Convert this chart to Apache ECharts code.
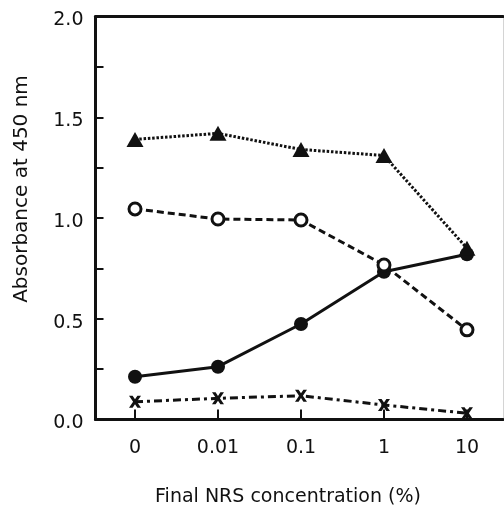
<!DOCTYPE html>
<html>
<head>
<meta charset="utf-8">
<script src="https://cdn.jsdelivr.net/npm/echarts@6/dist/echarts.min.js"></script>
<style>
  html, body { margin: 0; padding: 0; background: #fff; }
  #chart { width: 504px; height: 516px; }
</style>
</head>
<body>
<div id="chart"></div>
<script>
// NRS concentrations (%) on an evenly spaced axis
const concentrations = ['0', '0.01', '0.1', '1', '10'];
// Absorbance at 450 nm for each condition
const triangleSeries = [1.39, 1.42, 1.34, 1.31, 0.85];
const openCircleSeries = [1.045, 0.995, 0.99, 0.767, 0.445];
const filledCircleSeries = [0.212, 0.262, 0.474, 0.733, 0.82];
const crossSeries = [0.088, 0.105, 0.118, 0.072, 0.031];
const yTickLabels = ['0.0', '0.5', '1.0', '1.5', '2.0'];

const FONT = 'DejaVu Sans';
const INK = '#111';

function pairs(values) {
  return values.map((v, i) => [i, v]);
}

const crossSymbol = 'path://M0,0L3,0L5,3L7,0L10,0L6.6,5L10,10L7,10L5,7L3,10L0,10L3.4,5Z';

const chart = echarts.init(document.getElementById('chart'), null, { renderer: 'canvas' });

chart.setOption({
  backgroundColor: '#fff',
  animation: false,
  grid: { left: 95.5, right: 1, top: 16.5, bottom: 96.5, containLabel: false },
  xAxis: [
    {
      type: 'value',
      min: -0.476,
      max: 4.434,
      position: 'bottom',
      splitLine: { show: false },
      axisLine: { show: true, onZero: false, lineStyle: { color: INK, width: 3 } },
      axisTick: {
        show: true, inside: true, length: 10,
        customValues: [0, 1, 2, 3, 4],
        lineStyle: { color: INK, width: 2 }
      },
      axisLabel: {
        customValues: [0, 1, 2, 3, 4],
        formatter: v => concentrations[Math.round(v)],
        fontFamily: FONT, fontSize: 19, color: INK, margin: 19
      }
    },
    {
      type: 'value',
      min: -0.476,
      max: 4.434,
      position: 'top',
      splitLine: { show: false },
      axisLine: { show: true, onZero: false, lineStyle: { color: INK, width: 3 } },
      axisTick: { show: false },
      axisLabel: { show: false }
    }
  ],
  yAxis: [
    {
      type: 'value',
      min: 0,
      max: 2,
      interval: 0.25,
      position: 'left',
      splitLine: { show: false },
      axisLine: { show: true, onZero: false, lineStyle: { color: INK, width: 3 } },
      axisTick: { show: true, inside: true, length: 8, lineStyle: { color: INK, width: 2 } },
      axisLabel: {
        formatter: v => {
          const k = Math.round(v / 0.5);
          return Math.abs(v - k * 0.5) < 1e-6 ? '{t|' + yTickLabels[k] + '}' : '';
        },
        rich: {
          t: { fontFamily: FONT, fontSize: 19, color: INK, padding: [8, 0, 0, 0] }
        },
        fontFamily: FONT, fontSize: 19, color: INK, margin: 12
      }
    },
    {
      type: 'value',
      min: 0,
      max: 2,
      position: 'right',
      splitLine: { show: false },
      axisLine: { show: true, onZero: false, lineStyle: { color: '#d4d4d4', width: 1 } },
      axisTick: { show: false },
      axisLabel: { show: false }
    }
  ],
  series: [
    {
      type: 'line',
      data: pairs(crossSeries),
      symbol: crossSymbol,
      symbolSize: 12,
      itemStyle: { color: INK },
      lineStyle: { color: INK, width: 3, type: [8, 4, 3, 4] },
      z: 3
    },
    {
      type: 'line',
      data: pairs(filledCircleSeries),
      symbol: 'circle',
      symbolSize: 14,
      itemStyle: { color: INK },
      lineStyle: { color: INK, width: 3, type: 'solid' },
      z: 4
    },
    {
      type: 'line',
      data: pairs(openCircleSeries),
      symbol: 'circle',
      symbolSize: 12,
      itemStyle: { color: '#fff', borderColor: INK, borderWidth: 3 },
      lineStyle: { color: INK, width: 3, type: [7, 4] },
      z: 5
    },
    {
      type: 'line',
      data: pairs(triangleSeries),
      symbol: 'triangle',
      symbolSize: [17, 15],
      itemStyle: { color: INK },
      lineStyle: { color: INK, width: 3, type: [2.5, 1.8] },
      z: 6
    }
  ],
  graphic: [
    {
      type: 'text',
      x: 22, y: 189,
      rotation: Math.PI / 2,
      style: {
        text: 'Absorbance at 450 nm',
        fontFamily: FONT, fontSize: 20, fill: INK,
        align: 'center', verticalAlign: 'middle'
      }
    },
    {
      type: 'text',
      x: 288, y: 497,
      style: {
        text: 'Final NRS concentration (%)',
        fontFamily: FONT, fontSize: 19, fill: INK,
        align: 'center', verticalAlign: 'middle'
      }
    }
  ]
});
</script>
</body>
</html>
